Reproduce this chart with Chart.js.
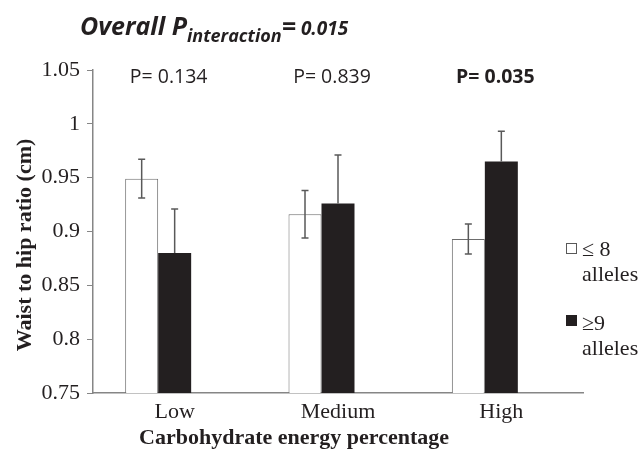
<!DOCTYPE html>
<html>
<head>
<meta charset="utf-8">
<script src="https://cdn.jsdelivr.net/npm/chart.js@4.4.1/dist/chart.umd.min.js"></script>
<style>
  html, body { margin: 0; padding: 0; background: #fff; }
  #wrap { width: 640px; height: 450px; }
</style>
</head>
<body>
<div id="wrap"><canvas id="whrChart" width="640" height="450"></canvas></div>
<script>
// ================= DATA =================
const categories = ["Low", "Medium", "High"];

const lowAllelesMean = [0.949, 0.916, 0.893];
const lowAllelesErr = [0.018, 0.022, 0.014];

const highAllelesMean = [0.880, 0.926, 0.965];
const highAllelesErr = [0.041, 0.045, 0.028];

const pLabels = ["P= 0.134", "P= 0.839", "P= 0.035"];
const pBold = [false, false, true];

const yMin = 0.75;
const yMax = 1.05;
const yStep = 0.05;

const legendLines = [
  ["\u2264 8", "alleles"],
  ["\u22659", "alleles"],
];

const INK = "#231f20";
const AXIS = "#868686";

// ================= ERROR BARS =================
const errorBarPlugin = {
  id: "errorBars",
  afterDatasetsDraw(chart) {
    const ctx = chart.ctx;
    const y = chart.scales.y;
    const errs = [lowAllelesErr, highAllelesErr];
    ctx.save();
    ctx.strokeStyle = "#595959";
    ctx.lineWidth = 1.5;
    errs.forEach((err, di) => {
      const meta = chart.getDatasetMeta(di);
      meta.data.forEach((bar, i) => {
        const v = chart.data.datasets[di].data[i];
        const top = y.getPixelForValue(v + err[i]);
        // black bars only show the upper whisker
        const bot = di === 0 ? y.getPixelForValue(v - err[i]) : bar.y;
        ctx.beginPath();
        ctx.moveTo(bar.x, top);
        ctx.lineTo(bar.x, bot);
        ctx.moveTo(bar.x - 3.5, top);
        ctx.lineTo(bar.x + 3.5, top);
        if (di === 0) {
          ctx.moveTo(bar.x - 3.5, bot);
          ctx.lineTo(bar.x + 3.5, bot);
        }
        ctx.stroke();
      });
    });
    ctx.restore();
  },
};

// ================= TEXTS / LEGEND =================
const annotatePlugin = {
  id: "annotate",
  afterDraw(chart) {
    const ctx = chart.ctx;
    const x = chart.scales.x;
    ctx.save();
    ctx.fillStyle = INK;
    ctx.textBaseline = "alphabetic";

    // title with subscript
    let tx = 80;
    ctx.textAlign = "left";
    ctx.font = 'italic bold 25px "Open Sans"';
    ctx.fillText("Overall P", tx, 35);
    tx += ctx.measureText("Overall P").width;
    ctx.font = 'italic bold 18px "Open Sans"';
    ctx.fillText("interaction", tx, 42);
    tx += ctx.measureText("interaction").width;
    ctx.font = 'italic bold 25px "Open Sans"';
    ctx.fillText("=", tx, 35);
    tx += ctx.measureText("=").width;
    ctx.font = 'italic bold 19px "Open Sans"';
    ctx.fillText(" 0.015", tx, 35);

    // P values per category
    ctx.textAlign = "center";
    pLabels.forEach((t, i) => {
      ctx.font = (pBold[i] ? "bold " : "") + '19.5px "Open Sans"';
      ctx.fillText(t, x.getPixelForValue(i) - 6, 83);
    });

    // axis titles
    ctx.font = 'bold 22px "Liberation Serif"';
    ctx.fillText("Carbohydrate energy percentage", 294, 444);
    ctx.save();
    ctx.translate(31, 245);
    ctx.rotate(-Math.PI / 2);
    ctx.fillText("Waist to hip ratio (cm)", 0, 0);
    ctx.restore();

    // legend
    ctx.textAlign = "left";
    ctx.font = '22px "Liberation Serif"';
    const rows = [
      { top: 243, fill: "#ffffff", base: 256 },
      { top: 315, fill: INK, base: 330 },
    ];
    rows.forEach((r, i) => {
      ctx.fillStyle = r.fill;
      ctx.fillRect(566, r.top, 11, 11);
      ctx.strokeStyle = i === 0 ? "#595959" : INK;
      ctx.lineWidth = 1;
      ctx.strokeRect(566.5, r.top + 0.5, 10, 10);
      ctx.fillStyle = INK;
      ctx.fillText(legendLines[i][0], 582, r.base);
      ctx.fillText(legendLines[i][1], 582, r.base + 25);
    });

    ctx.restore();
  },
};

// ================= CHART =================
new Chart(document.getElementById("whrChart"), {
  type: "bar",
  data: {
    labels: categories,
    datasets: [
      {
        label: "\u2264 8 alleles",
        data: lowAllelesMean,
        backgroundColor: "#ffffff",
        borderColor: "#6d6d6d",
        borderWidth: 1,
      },
      {
        label: "\u22659 alleles",
        data: highAllelesMean,
        backgroundColor: INK,
        borderColor: INK,
        borderWidth: 0,
      },
      {
        // empty slot, keeps bars left of the category centre
        label: "",
        data: [null, null, null],
      },
    ],
  },
  options: {
    responsive: false,
    animation: false,
    categoryPercentage: 0.606,
    barPercentage: 1,
    layout: { padding: { top: 70, right: 57, left: 0, bottom: 0 } },
    plugins: {
      legend: { display: false },
      tooltip: { enabled: false },
    },
    scales: {
      x: {
        grid: { drawOnChartArea: false, drawTicks: false },
        border: { color: AXIS, width: 1.5 },
        ticks: {
          color: INK,
          padding: 6,
          font: { family: "Liberation Serif", size: 22 },
        },
        afterFit: (s) => {
          s.height = 57;
        },
      },
      y: {
        min: yMin,
        max: yMax,
        grid: {
          drawOnChartArea: false,
          drawTicks: true,
          tickLength: 6,
          color: AXIS,
        },
        border: { color: AXIS, width: 1.5 },
        ticks: {
          stepSize: yStep,
          color: INK,
          padding: 7,
          font: { family: "Liberation Serif", size: 22 },
          callback: (v) => String(+v.toFixed(2)),
        },
        afterFit: (s) => {
          s.width = 93;
        },
      },
    },
  },
  plugins: [errorBarPlugin, annotatePlugin],
});
</script>
</body>
</html>
